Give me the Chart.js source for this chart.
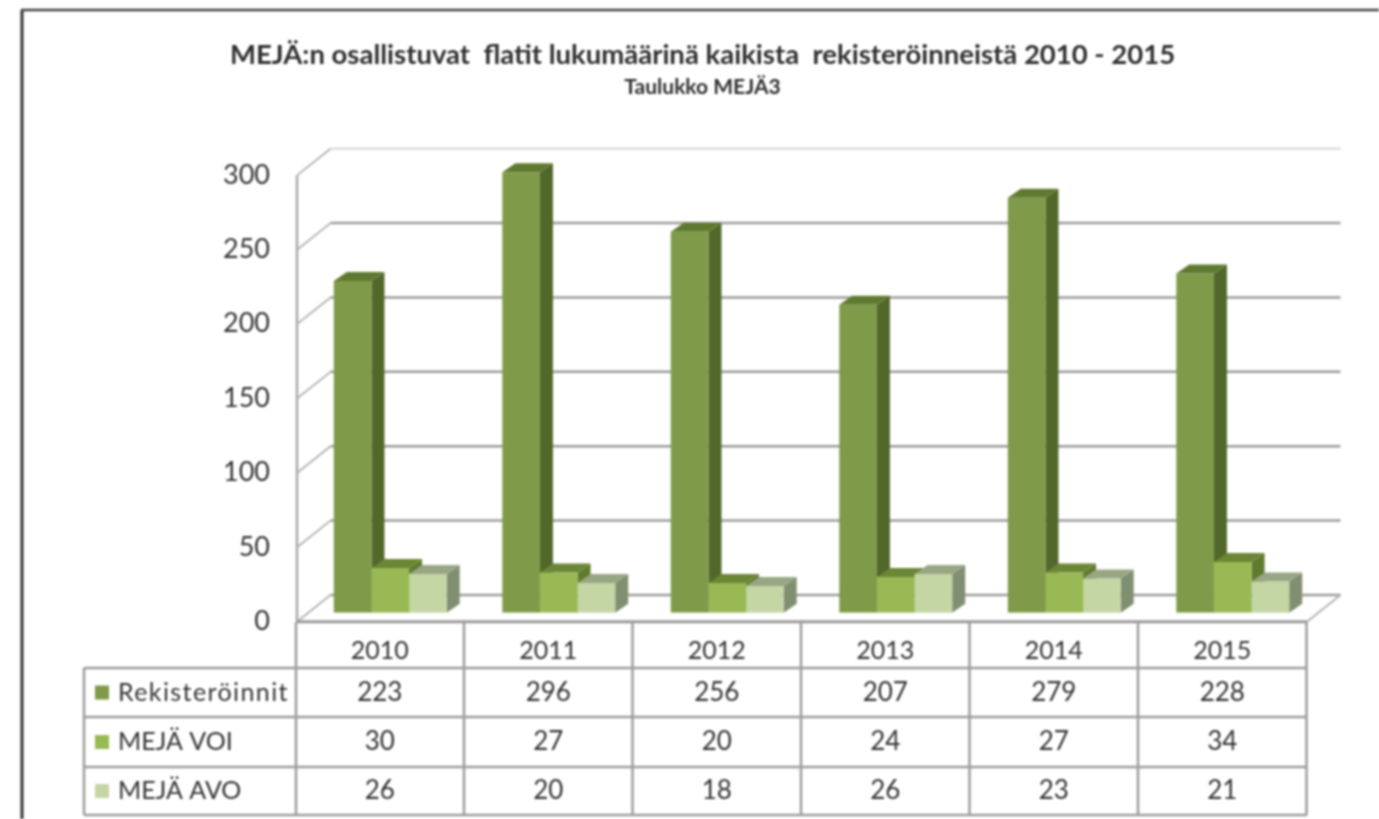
<!DOCTYPE html>
<html>
<head>
<meta charset="utf-8">
<script src="https://cdn.jsdelivr.net/npm/chart.js@4"></script>
<style>
    html, body { margin: 0; background: #fff; overflow: hidden; }
    canvas { display: block; filter: blur(0.8px); }
</style>
</head>
<body>
<canvas id="chart" width="1379" height="819"></canvas>
<script>
const years = ["2010", "2011", "2012", "2013", "2014", "2015"];
const rekisteroinnit = [223, 296, 256, 207, 279, 228];
const mejaVoi = [30, 27, 20, 24, 27, 34];
const mejaAvo = [26, 20, 18, 26, 23, 21];
const yTicks = [0, 50, 100, 150, 200, 250, 300];

const titleText = "MEJÄ:n osallistuvat  flatit lukumäärinä kaikista  rekisteröinneistä 2010 - 2015";
const subtitleText = "Taulukko MEJÄ3";

// front, top and side colour of the 3d bars
const frontColors = ["#7f9a48", "#98b954", "#c4d6a3"];
const topColors = ["#5f7a30", "#6b8636", "#98a684"];
const sideColors = ["#52672a", "#607a2e", "#7f8f70"];

const textColor = "#333333";
const lineColor = "#9c9c9c";
const font = "Lato, sans-serif";

// bar extrusion and wall depth in pixels
const barDepth = { x: 13, y: 9 };
const wall = { front: 9, back: -17.7, left: 297, right: 1307, depthX: 33.5 };
const table = { left: 84, right: 1307, split: 296, rows: [622, 668, 717, 767, 815] };
const tableShift = -10.5; // table columns sit left of the bar groups
const labelSpacing = ["1.4px", "0px", "0px"]; // the first row name is set wider

function line(ctx, x1, y1, x2, y2, color, width) {
    ctx.strokeStyle = color;
    ctx.lineWidth = width;
    ctx.beginPath();
    ctx.moveTo(x1, y1);
    ctx.lineTo(x2, y2);
    ctx.stroke();
}

function poly(ctx, pts, color) {
    ctx.fillStyle = color;
    ctx.beginPath();
    pts.forEach((p, i) => i ? ctx.lineTo(p[0], p[1]) : ctx.moveTo(p[0], p[1]));
    ctx.closePath();
    ctx.fill();
}

const walls3d = {
    id: "walls3d",
    beforeDatasetsDraw(chart) {
        const ctx = chart.ctx, y = chart.scales.y;
        ctx.save();
        // outer frame
        line(ctx, 22, 819, 22, 10, "#333333", 3);
        line(ctx, 21, 10, 1379, 10, "#444444", 2.5);
        // left wall and back wall
        const top = y.getPixelForValue(y.max), bottom = y.getPixelForValue(y.min);
        line(ctx, wall.left, top + wall.front, wall.left, bottom + wall.front, "#a8a8a8", 2.5);
        y.ticks.forEach(t => {
            const py = y.getPixelForValue(t.value);
            const c = t.value === y.max ? "#cfcfcf" : lineColor;
            const backY = py + wall.back;
            line(ctx, wall.left, py + wall.front, wall.left + wall.depthX, backY, "#b0b0b0", 1.8);
            line(ctx, wall.left + wall.depthX, backY, wall.right + wall.depthX, backY, c, t.value === y.max ? 1.8 : 2.5);
        });
        // floor
        line(ctx, wall.right, bottom + wall.front, wall.right + wall.depthX, bottom + wall.back, "#b0b0b0", 1.8);
        line(ctx, wall.left, bottom + wall.front, wall.right, bottom + wall.front, "#999999", 3);

        // tops and sides of the bars, left to right so neighbours overlap properly
        const metas = chart.data.datasets.map((_, i) => chart.getDatasetMeta(i));
        years.forEach((_, i) => {
            metas.forEach((meta, d) => {
                const b = meta.data[i];
                const l = b.x - b.width / 2, r = b.x + b.width / 2;
                const dx = barDepth.x, dy = barDepth.y;
                poly(ctx, [[r, b.y], [r + dx, b.y - dy], [r + dx, b.base - dy], [r, b.base]], sideColors[d]);
                poly(ctx, [[l, b.y], [l + dx, b.y - dy], [r + dx, b.y - dy], [r, b.y]], topColors[d]);
            });
        });
        ctx.restore();
    },
    afterDraw(chart) {
        const ctx = chart.ctx, x = chart.scales.x;
        ctx.save();
        const colLines = years.map((_, i) => x.getPixelForTick(i) + tableShift + x.width / years.length / 2);
        // grid of the data table
        const rows = table.rows;
        line(ctx, table.split, rows[0], table.split, rows[4], lineColor, 2.5);
        colLines.forEach(cx => line(ctx, cx, rows[0], cx, rows[4], lineColor, 2.5));
        line(ctx, table.left, rows[1], table.left, rows[4], lineColor, 2.5);
        for (let r = 1; r < rows.length; r++) {
            line(ctx, table.left, rows[r], table.right, rows[r], lineColor, 2.5);
        }
        // rows: legend key, name, values
        ctx.textBaseline = "middle";
        chart.data.datasets.forEach((ds, d) => {
            const cy = (rows[d + 1] + rows[d + 2]) / 2;
            ctx.fillStyle = frontColors[d];
            ctx.fillRect(95, cy - 7, 14, 14);
            ctx.fillStyle = textColor;
            ctx.textAlign = "left";
            ctx.font = "25px " + font;
            ctx.letterSpacing = labelSpacing[d];
            ctx.fillText(ds.label, 118, cy);
            ctx.letterSpacing = "0px";
            ctx.textAlign = "center";
            ctx.font = "26px " + font;
            ds.data.forEach((v, i) => ctx.fillText(String(v), x.getPixelForTick(i) + tableShift, cy));
        });
        ctx.restore();
    }
};

new Chart(document.getElementById("chart"), {
    type: "bar",
    plugins: [walls3d],
    data: {
        labels: years,
        datasets: [
            { label: "Rekisteröinnit", data: rekisteroinnit, backgroundColor: frontColors[0] },
            { label: "MEJÄ VOI", data: mejaVoi, backgroundColor: frontColors[1] },
            { label: "MEJÄ AVO", data: mejaAvo, backgroundColor: frontColors[2] },
        ],
    },
    options: {
        responsive: false,
        animation: false,
        layout: { padding: { left: 88, right: 62, top: 38.5, bottom: 0 } },
        datasets: { bar: { categoryPercentage: 0.67, barPercentage: 1 } },
        plugins: {
            legend: { display: false },
            tooltip: { enabled: false },
            title: {
                display: true,
                text: titleText,
                color: "#2e2e2e",
                font: { family: font, size: 27.5, weight: "bold" },
                padding: { top: 0, bottom: 2.9 },
            },
            subtitle: {
                display: true,
                text: subtitleText,
                color: "#2e2e2e",
                font: { family: font, size: 21, weight: "bold" },
                padding: { top: 0, bottom: 66.8 },
            },
        },
        scales: {
            x: {
                grid: { display: false },
                border: { display: false },
                afterFit: s => { s.height = 206.3; },
                ticks: {
                    color: textColor,
                    font: { family: font, size: 25 },
                    padding: 15,
                    labelOffset: tableShift,
                    maxRotation: 0,
                },
            },
            y: {
                min: 0,
                max: 300,
                grid: { display: false },
                border: { display: false },
                afterFit: s => { s.width = 218; },
                afterBuildTicks: s => { s.ticks = yTicks.map(v => ({ value: v })); },
                ticks: {
                    color: textColor,
                    font: { family: font, size: 27 },
                    padding: 28,
                    labelOffset: 8.5,
                },
            },
        },
    },
});
</script>
</body>
</html>
